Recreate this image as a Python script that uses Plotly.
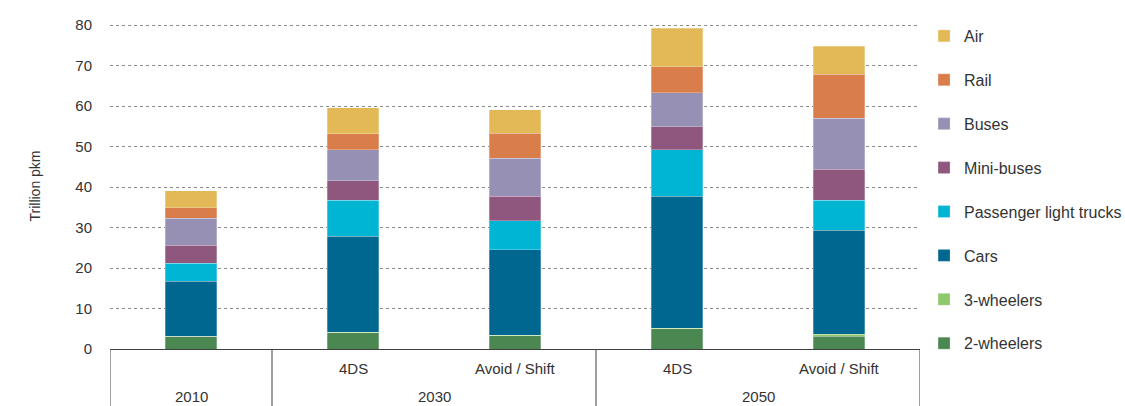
import plotly.graph_objects as go

years = ["2010", "2030", "2030", "2050", "2050"]
scenarios = ["", "4DS", "Avoid / Shift", "4DS", "Avoid / Shift"]
categories = [(y + " " + s).strip() for y, s in zip(years, scenarios)]

modes = ["2-wheelers", "3-wheelers", "Cars", "Passenger light trucks",
         "Mini-buses", "Buses", "Rail", "Air"]
two_wheelers = [3.1, 4.0, 3.25, 5.0, 3.2]
three_wheelers = [0.1, 0.1, 0.1, 0.1, 0.4]
cars = [13.5, 23.8, 21.2, 32.6, 25.7]
light_trucks = [4.5, 8.8, 7.1, 11.5, 7.4]
mini_buses = [4.4, 4.8, 6.1, 5.7, 7.7]
buses = [6.7, 7.7, 9.4, 8.4, 12.6]
rail = [2.6, 4.0, 6.1, 6.4, 10.8]
air = [4.2, 6.4, 5.8, 9.5, 7.0]

series = [two_wheelers, three_wheelers, cars, light_trucks, mini_buses, buses, rail, air]
colors = ["#4A8751", "#8DC86A", "#006790", "#00B4D4", "#8F567E", "#9690B5", "#D97E4A", "#E3B856"]

text_color = "#333333"
font_family = "Liberation Sans, Arial, sans-serif"

fig = go.Figure()
for i, (name, vals, col) in enumerate(zip(modes, series, colors)):
    fig.add_trace(go.Bar(
        x=categories, y=vals, name=name, legendgroup=name,
        legendrank=len(modes) - i,
        marker=dict(color=col, line=dict(color="rgba(255,255,255,0.45)", width=0.6)),
    ))

# category table below the axis: scenario row, year row and group dividers
annotations = []
for cat, s in zip(categories, scenarios):
    if s:
        annotations.append(dict(x=cat, y=-0.06, xref="x", yref="paper", text=s,
                                showarrow=False, yanchor="middle", xanchor="center",
                                font=dict(size=15, color=text_color)))
shapes = []
n = len(years)
bounds = [-0.5]
groups = []
start = 0
for i in range(1, n + 1):
    if i == n or years[i] != years[i - 1]:
        groups.append((years[start], (start + i - 1) / 2))
        bounds.append(i - 0.5)
        start = i
for yr, center in groups:
    annotations.append(dict(x=center, y=-0.146, xref="x", yref="paper", text=yr,
                            showarrow=False, yanchor="middle", xanchor="center",
                            font=dict(size=15, color=text_color)))
for b in bounds:
    shapes.append(dict(type="line", xref="x", yref="paper", x0=b, x1=b, y0=0, y1=-0.2,
                       line=dict(color="#404040", width=1)))

fig.update_layout(
    barmode="stack",
    bargap=0.685,
    width=1125, height=406,
    margin=dict(l=110, r=205, t=23, b=56.5, autoexpand=False),
    plot_bgcolor="white", paper_bgcolor="white",
    font=dict(family=font_family, size=14, color=text_color),
    showlegend=True,
    legend=dict(traceorder="grouped", tracegroupgap=20.1, x=1.005, xanchor="left",
                y=1.0123, yanchor="top", font=dict(size=16), itemwidth=30,
                maxheight=400, bgcolor="rgba(0,0,0,0)"),
    xaxis=dict(type="category", showline=True, linecolor="#404040", linewidth=1.2,
               showticklabels=False, ticks="", range=[-0.5, n - 0.5]),
    yaxis=dict(range=[0, 80.5], tickvals=[0, 10, 20, 30, 40, 50, 60, 70, 80],
               showgrid=True, gridcolor="#8a8a8a", griddash="dot",
               gridwidth=1, zeroline=False, showline=False, ticklabelstandoff=17,
               tickfont=dict(size=15),
               title=dict(text="Trillion pkm", font=dict(size=14), standoff=31)),
    annotations=annotations,
    shapes=shapes,
)

fig.write_html("out.html", config={"displayModeBar": False},
               post_script="document.body.style.margin='0px';")
